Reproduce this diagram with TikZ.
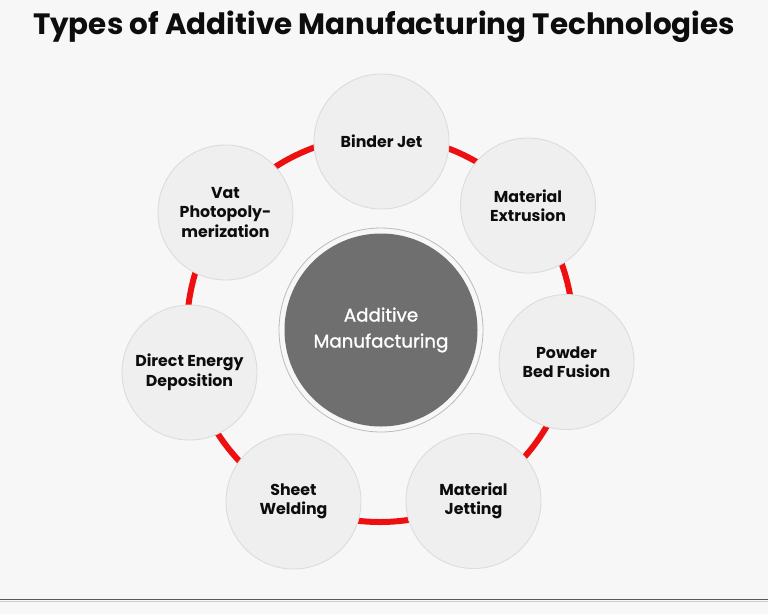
\documentclass[tikz,border=0pt]{standalone}
\usepackage{fontspec}
\setmainfont{Poppins}
\newfontfamily\hubfont{Poppins}[FakeBold=1.3]
\definecolor{bg}{HTML}{F7F7F7}
\definecolor{cfill}{HTML}{EFEFEF}
\definecolor{cedge}{HTML}{DCDCDC}
\definecolor{dark}{HTML}{6F6F6F}
\definecolor{ringred}{RGB}{238,16,16}
\definecolor{titlec}{HTML}{0D0D0D}
\begin{document}
\begin{tikzpicture}[x=1pt,y=-1pt,
  tech/.style={circle,draw=cedge,line width=0.9pt,fill=cfill,minimum size=135pt,inner sep=0pt,
    align=center,font=\fontsize{15.8}{19.5}\selectfont\bfseries,text=titlec},
  hub/.style={circle,fill=dark,minimum size=193pt,inner sep=0pt,align=center,
    font=\hubfont\fontsize{18.3}{26}\selectfont,text=white},
  hubring/.style={circle,draw=cedge!85!black,line width=0.8pt,minimum size=204pt,inner sep=0pt},
  redring/.style={draw=ringred,line width=6pt}]
\useasboundingbox (0,0) rectangle (768,614);
\fill[bg] (0,0) rectangle (768,614);
\node[font=\fontsize{29.4}{34}\selectfont\bfseries,text=titlec] (title) at (384,27) {Types of Additive Manufacturing Technologies};
% coordinates of technology circles
\coordinate (cbj) at (381.5,141.5);
\coordinate (cme) at (528,205.5);
\coordinate (cpbf) at (566.5,362);
\coordinate (cmj) at (473.5,501);
\coordinate (csw) at (293.5,501.5);
\coordinate (cded) at (189.5,372.5);
\coordinate (cvat) at (225.5,212.5);
\coordinate (ccen) at (380,329);
% red ring connecting them
\draw[redring] (ccen) circle[radius=193];
\node[tech] (bj) at (cbj) {Binder Jet};
\node[tech] (me) at (cme) {Material\\Extrusion};
\node[tech] (pbf) at (cpbf) {Powder\\Bed Fusion};
\node[tech] (mj) at (cmj) {Material\\Jetting};
\node[tech] (sw) at (csw) {Sheet\\Welding};
\node[tech] (ded) at (cded) {Direct Energy\\Deposition};
\node[tech] (vat) at (cvat) {Vat\\Photopoly-\\merization};
\node[hubring] (ring) at (381,330) {};
\node[hub] (hub) at (381,330) {Additive\\Manufacturing};
% bottom rule
\draw[draw=black!65,line width=1.4pt] (0,599.5) -- (768,599.5);
\draw[draw=black!20,line width=1pt] (0,601.5) -- (768,601.5);
\end{tikzpicture}
\end{document}
